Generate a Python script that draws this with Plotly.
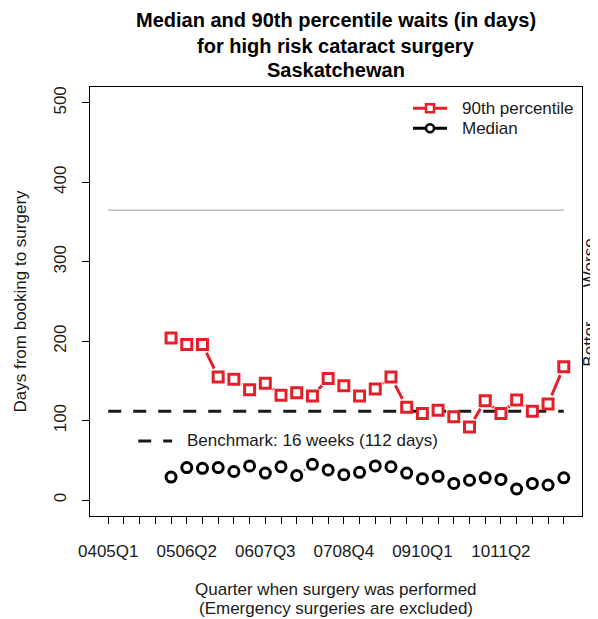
import plotly.graph_objects as go

# quarters on the x axis (fiscal year + quarter)
QUARTERS = [
    "0405Q1", "0405Q2", "0405Q3", "0405Q4",
    "0506Q1", "0506Q2", "0506Q3", "0506Q4",
    "0607Q1", "0607Q2", "0607Q3", "0607Q4",
    "0708Q1", "0708Q2", "0708Q3", "0708Q4",
    "0809Q1", "0809Q2", "0809Q3", "0809Q4",
    "0910Q1", "0910Q2", "0910Q3", "0910Q4",
    "1011Q1", "1011Q2", "1011Q3", "1011Q4",
    "1112Q1", "1112Q2",
]
LABELLED = ["0405Q1", "0506Q2", "0607Q3", "0708Q4", "0910Q1", "1011Q2"]

DATA_QUARTERS = QUARTERS[4:]
P90_DAYS = [204, 196, 196, 155, 152, 139, 147, 132, 135, 131, 153, 144, 131,
            140, 155, 117, 109, 113, 105, 92, 125, 109, 126, 112, 121, 168]
MEDIAN_DAYS = [29, 41, 40, 41, 36, 43, 34, 42, 31, 45, 38, 32, 35,
               43, 42, 34, 27, 30, 21, 25, 28, 26, 14, 21, 19, 28]

BENCHMARK_DAYS = 112
ONE_YEAR_DAYS = 365

TITLE_LINES = ["Median and 90th percentile waits (in days)",
               "for high risk cataract surgery", "Saskatchewan"]

RED = "#E3202A"
INK = "#1a1a1a"
FONT = "Liberation Sans, Arial, sans-serif"

# the page body has an 8px margin, so the figure is 8px smaller than the window
W, H = 590, 611
PLOT_W, PLOT_H = 492, 429

xpos = [QUARTERS.index(q) for q in DATA_QUARTERS]
span = [QUARTERS.index(QUARTERS[0]), QUARTERS.index(QUARTERS[-1])]

fig = go.Figure()

# one-year reference line
fig.add_trace(go.Scatter(x=span, y=[ONE_YEAR_DAYS] * 2, mode="lines",
                         line=dict(color="#9a9a9a", width=1), showlegend=False,
                         hoverinfo="skip"))
# connecting lines, R type="b" style: white blobs on the line leave a gap round each point
for vals, col in ((P90_DAYS, RED), (MEDIAN_DAYS, "black")):
    fig.add_trace(go.Scatter(x=xpos, y=vals, mode="lines+markers",
                             line=dict(color=col, width=3),
                             marker=dict(symbol="circle", size=19, color="white"),
                             showlegend=False, hoverinfo="skip"))
# benchmark
fig.add_trace(go.Scatter(x=span, y=[BENCHMARK_DAYS] * 2, mode="lines",
                         line=dict(color=INK, width=3, dash="13px,12px"),
                         showlegend=False, hoverinfo="skip"))
# points
fig.add_trace(go.Scatter(x=xpos, y=P90_DAYS, mode="markers", name="90th percentile",
                         marker=dict(symbol="square", size=10, color="white",
                                     line=dict(color=RED, width=3)),
                         showlegend=False))
fig.add_trace(go.Scatter(x=xpos, y=MEDIAN_DAYS, mode="markers", name="Median",
                         marker=dict(symbol="circle", size=10, color="white",
                                     line=dict(color="black", width=3)),
                         showlegend=False))

# legend, drawn by hand to get R's tight row spacing
def px(dx):
    return dx / PLOT_W


def py(dy):
    return dy / PLOT_H


for label, col, shape, ycen in (("90th percentile", RED, "rect", 407.7),
                                ("Median", "black", "circle", 387.7)):
    fig.add_shape(type="line", xref="paper", yref="paper", x0=px(323), x1=px(357),
                  y0=py(ycen), y1=py(ycen), line=dict(color=col, width=3))
    fig.add_shape(type=shape, xref="paper", yref="paper", x0=px(336), x1=px(344),
                  y0=py(ycen - 4), y1=py(ycen + 4), fillcolor="white",
                  line=dict(color=col, width=2.5))
    fig.add_annotation(text=label, xref="paper", yref="paper", x=px(370), y=py(ycen),
                       xanchor="left", yanchor="middle", showarrow=False)

# benchmark legend
fig.add_shape(type="line", xref="paper", yref="paper", x0=0.098, x1=0.167,
              y0=0.175, y1=0.175, line=dict(color=INK, width=3, dash="13px,12px"))
fig.add_annotation(text="Benchmark: 16 weeks (112 days)", xref="paper", yref="paper",
                   x=0.193, y=0.175, xanchor="left", yanchor="middle", showarrow=False)

# direction hints in the right margin
for hint, yfrac in (("Worse →", 0.70), ("← Better", 0.294)):
    fig.add_annotation(text=hint, xref="paper", yref="paper", x=1, xshift=7,
                       xanchor="center", y=yfrac, textangle=-90, showarrow=False,
                       borderpad=0)

# title, one annotation per line (offsets in px above the plot bottom)
for line, dy in zip(TITLE_LINES, (496, 470, 446)):
    fig.add_annotation(text="<b>%s</b>" % line, xref="paper", yref="paper",
                       x=0.5, y=py(dy), yanchor="middle", showarrow=False,
                       font=dict(size=20, color="black"))

# axis titles
fig.add_annotation(text="Quarter when surgery was performed", xref="paper", yref="paper",
                   x=0.5, y=py(-73), yanchor="middle", showarrow=False)
fig.add_annotation(text="(Emergency surgeries are excluded)", xref="paper", yref="paper",
                   x=0.5, y=py(-92), yanchor="middle", showarrow=False)
fig.add_annotation(text="Days from booking to surgery", xref="paper", yref="paper",
                   x=px(-70), xanchor="center", y=0.5, textangle=-90, showarrow=False)

fig.update_layout(
    width=W,
    height=H,
    margin=dict(l=82, r=16, t=79, b=103, autoexpand=False),
    paper_bgcolor="white",
    plot_bgcolor="white",
    font=dict(family=FONT, size=17, color=INK),
    showlegend=False,
    xaxis=dict(
        range=[-1.16, 30.16],
        tickvals=list(range(len(QUARTERS))),
        ticktext=[q if q in LABELLED else "" for q in QUARTERS],
        ticks="outside", ticklen=7, tickcolor="black",
        showline=True, linecolor="black", mirror=True, showgrid=False, zeroline=False,
        ticklabelstandoff=13, automargin=False,
    ),
    yaxis=dict(
        range=[-20, 520],
        tickvals=[0, 100, 200, 300, 400, 500],
        tickangle=-90,
        ticks="outside", ticklen=7, tickcolor="black",
        showline=True, linecolor="black", mirror=True, showgrid=False, zeroline=False,
        ticklabelstandoff=9, automargin=False,
    ),
)

fig.write_html("out.html")
